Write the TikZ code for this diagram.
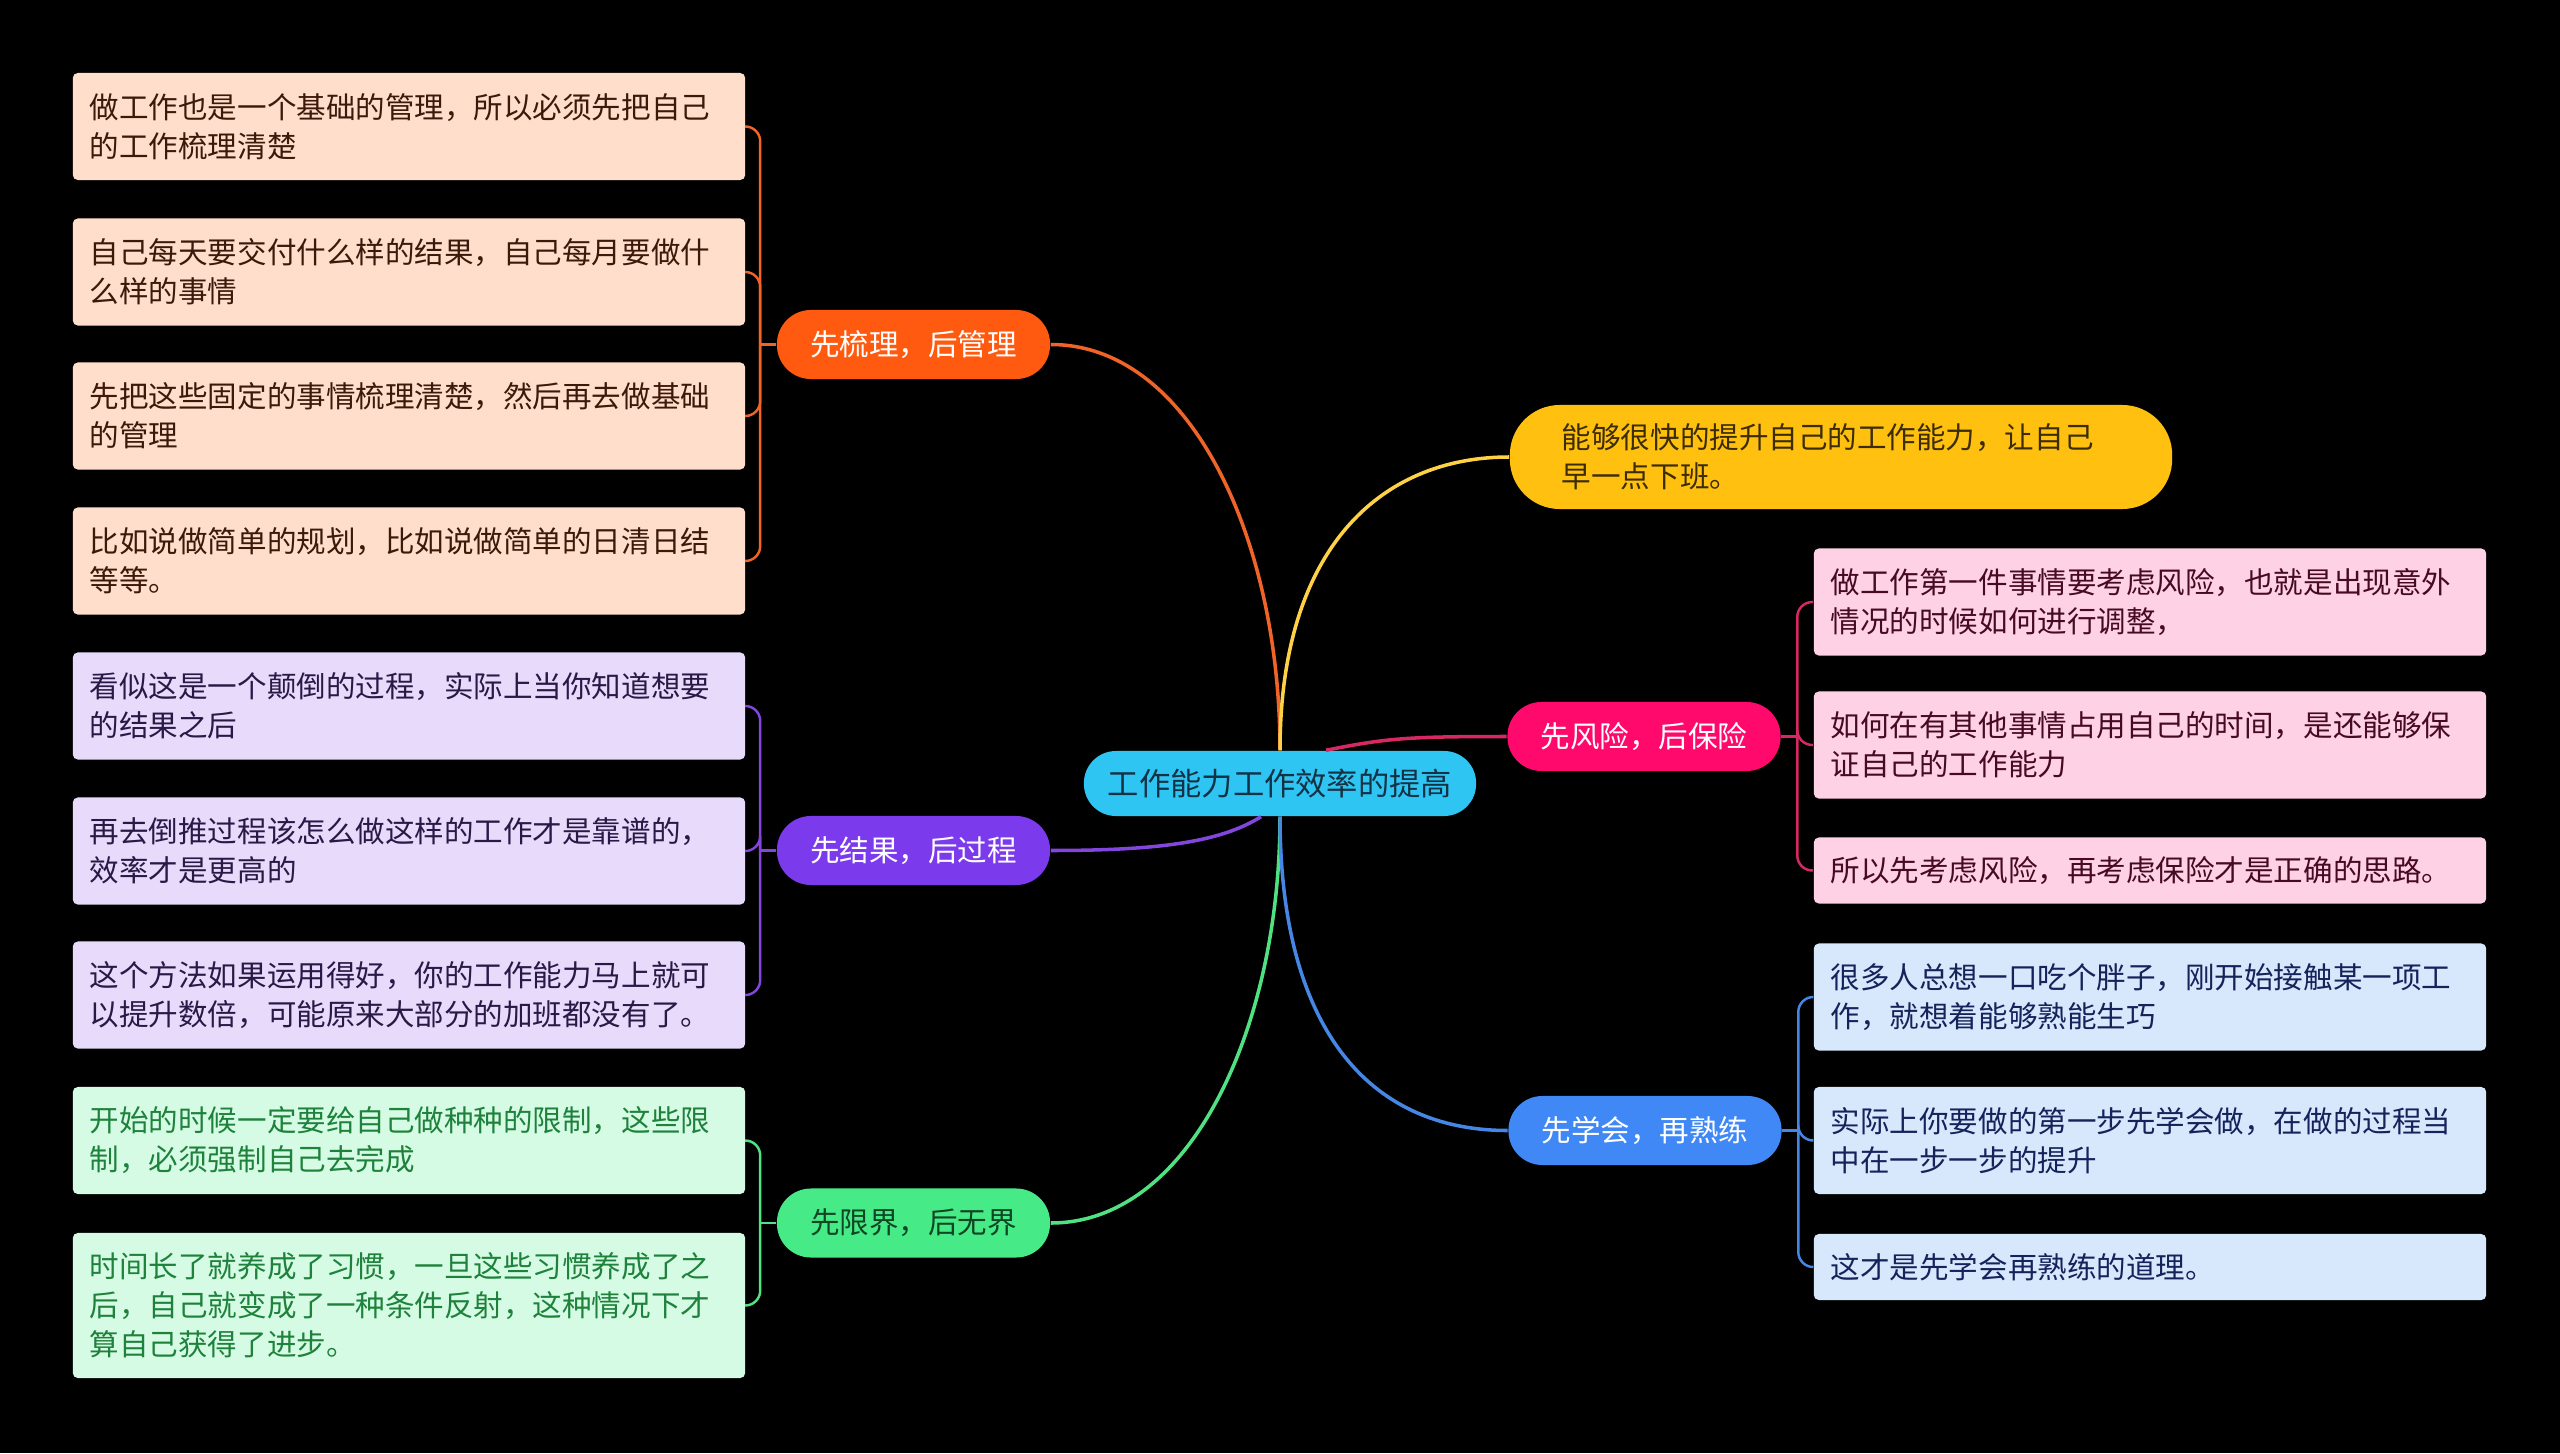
\documentclass[tikz,border=0pt]{standalone}
\usepackage{fontspec}
\setmainfont{Noto Sans CJK SC}
\usepackage{xcolor}
\usepackage{tikz}
\usetikzlibrary{positioning, calc}
\definecolor{mmcyan}{RGB}{46,197,242}
\definecolor{mmrootink}{RGB}{20,50,70}
\definecolor{mmorange}{RGB}{255,90,15}
\definecolor{mmorangeline}{RGB}{240,100,40}
\definecolor{mmorangeleaf}{RGB}{255,223,204}
\definecolor{mmorangeink}{RGB}{60,25,10}
\definecolor{mmpurple}{RGB}{124,58,237}
\definecolor{mmpurpleline}{RGB}{130,70,220}
\definecolor{mmpurpleleaf}{RGB}{232,218,251}
\definecolor{mmpurpleink}{RGB}{40,25,70}
\definecolor{mmgreen}{RGB}{70,235,135}
\definecolor{mmgreenink}{RGB}{15,70,35}
\definecolor{mmgreenline}{RGB}{80,225,130}
\definecolor{mmgreenleaf}{RGB}{214,251,228}
\definecolor{mmgreenleafink}{RGB}{30,130,60}
\definecolor{mmyellow}{RGB}{255,192,15}
\definecolor{mmyellowink}{RGB}{60,45,0}
\definecolor{mmyellowline}{RGB}{255,210,70}
\definecolor{mmpink}{RGB}{255,10,108}
\definecolor{mmpinkline}{RGB}{215,40,100}
\definecolor{mmpinkleaf}{RGB}{255,209,228}
\definecolor{mmpinkink}{RGB}{70,10,35}
\definecolor{mmblue}{RGB}{63,136,245}
\definecolor{mmblueline}{RGB}{70,135,230}
\definecolor{mmblueleaf}{RGB}{215,232,253}
\definecolor{mmblueink}{RGB}{20,35,90}

\begin{document}
\begin{tikzpicture}[
  x=0.01cm, y=0.01cm,
  every node/.style={font=\fontsize{8.4}{11.1}\selectfont},
  root/.style={rectangle, fill=mmcyan, text=mmrootink,
               font=\fontsize{8.9}{11}\selectfont, minimum width=3.92cm,
               minimum height=0.65cm, rounded corners=0.32cm},
  topic/.style={rectangle, text=white, minimum width=2.73cm,
                minimum height=0.69cm, rounded corners=0.34cm, inner sep=0pt},
  leaf/.style={rectangle, rounded corners=0.05cm, text width=6.38cm,
               inner xsep=0.17cm, inner ysep=0pt, align=left},
  lone/.style={leaf, minimum height=0.66cm},
  ltwo/.style={leaf, minimum height=1.07cm},
  lthree/.style={leaf, minimum height=1.45cm},
  branch/.style={line width=1pt},
  twig/.style={line width=0.7pt, rounded corners=0.15cm},
]

% Background
\fill[black] (0,0) rectangle (2560,1453);

% Root
\node[root] (root) at (1280,669.5) {工作能力工作效率的提高};

% Left topics
\node[topic, fill=mmorange] (sort)   at (913.5,1108.5) {先梳理，后管理};
\node[topic, fill=mmpurple] (result) at (913.5,602.5)  {先结果，后过程};
\node[topic, fill=mmgreen, text=mmgreenink] (limit) at (913.5,230) {先限界，后无界};

% Right topics
\node[topic, fill=mmyellow, text=mmyellowink, minimum width=6.62cm,
      minimum height=1.04cm, rounded corners=0.5cm, text width=5.58cm,
      align=left, inner xsep=0.52cm] (quick) at (1841,996)
      {能够很快的提升自己的工作能力，让自己\\早一点下班。};
\node[topic, fill=mmpink] (risk)  at (1644,716.5) {先风险，后保险};
\node[topic, fill=mmblue] (learn) at (1645,322.5) {先学会，再熟练};

% Leaves of sort
\node[ltwo, fill=mmorangeleaf, text=mmorangeink] (s1) at (409,1326.5)
  {做工作也是一个基础的管理，所以必须先把自己\\的工作梳理清楚};
\node[ltwo, fill=mmorangeleaf, text=mmorangeink] (s2) at (409,1181)
  {自己每天要交付什么样的结果，自己每月要做什\\么样的事情};
\node[ltwo, fill=mmorangeleaf, text=mmorangeink] (s3) at (409,1037)
  {先把这些固定的事情梳理清楚，然后再去做基础\\的管理};
\node[ltwo, fill=mmorangeleaf, text=mmorangeink] (s4) at (409,892)
  {比如说做简单的规划，比如说做简单的日清日结\\等等。};

% Leaves of result
\node[ltwo, fill=mmpurpleleaf, text=mmpurpleink] (r1) at (409,747)
  {看似这是一个颠倒的过程，实际上当你知道想要\\的结果之后};
\node[ltwo, fill=mmpurpleleaf, text=mmpurpleink] (r2) at (409,602)
  {再去倒推过程该怎么做这样的工作才是靠谱的，\\效率才是更高的};
\node[ltwo, fill=mmpurpleleaf, text=mmpurpleink] (r3) at (409,458)
  {这个方法如果运用得好，你的工作能力马上就可\\以提升数倍，可能原来大部分的加班都没有了。};

% Leaves of limit
\node[ltwo, fill=mmgreenleaf, text=mmgreenleafink] (g1) at (409,312.5)
  {开始的时候一定要给自己做种种的限制，这些限\\制，必须强制自己去完成};
\node[lthree, fill=mmgreenleaf, text=mmgreenleafink] (g2) at (409,147.5)
  {时间长了就养成了习惯，一旦这些习惯养成了之\\后，自己就变成了一种条件反射，这种情况下才\\算自己获得了进步。};

% Leaves of risk
\node[ltwo, fill=mmpinkleaf, text=mmpinkink] (k1) at (2150,851)
  {做工作第一件事情要考虑风险，也就是出现意外\\情况的时候如何进行调整，};
\node[ltwo, fill=mmpinkleaf, text=mmpinkink] (k2) at (2150,708)
  {如何在有其他事情占用自己的时间，是还能够保\\证自己的工作能力};
\node[lone, fill=mmpinkleaf, text=mmpinkink] (k3) at (2150,582.5)
  {所以先考虑风险，再考虑保险才是正确的思路。};

% Leaves of learn
\node[ltwo, fill=mmblueleaf, text=mmblueink] (l1) at (2150,456)
  {很多人总想一口吃个胖子，刚开始接触某一项工\\作，就想着能够熟能生巧};
\node[ltwo, fill=mmblueleaf, text=mmblueink] (l2) at (2150,312.5)
  {实际上你要做的第一步先学会做，在做的过程当\\中在一步一步的提升};
\node[lone, fill=mmblueleaf, text=mmblueink] (l3) at (2150,186)
  {这才是先学会再熟练的道理。};

% Branches from root
\draw[branch, mmorangeline] (root.north) .. controls +(0,210) and +(140,0) .. (sort.east);
\draw[branch, mmyellowline] (root.north) .. controls +(0,200) and +(-130,0) .. (quick.west);
\draw[branch, mmpinkline] ($(root.north)+(46,0)$) .. controls +(60,12) and +(-100,0) .. (risk.west);
\draw[branch, mmpurpleline] ($(root.south)+(-19,0)$) .. controls +(-40,-25) and +(110,0) .. (result.east);
\draw[branch, mmgreenline] (root.south) .. controls +(0,-210) and +(140,0) .. (limit.east);
\draw[branch, mmblueline] (root.south) .. controls +(0,-210) and +(-140,0) .. (learn.west);

% Twigs to leaves
\draw[twig, mmorangeline] (sort.west) -- ++(-16,0) coordinate (sortj);
\foreach \c in {s1,s2,s3,s4} \draw[twig, mmorangeline] (sortj) |- (\c.east);
\draw[twig, mmpurpleline] (result.west) -- ++(-16,0) coordinate (resultj);
\foreach \c in {r1,r2,r3} \draw[twig, mmpurpleline] (resultj) |- (\c.east);
\draw[twig, mmgreenline] (limit.west) -- ++(-16,0) coordinate (limitj);
\foreach \c in {g1,g2} \draw[twig, mmgreenline] (limitj) |- (\c.east);
\draw[twig, mmpinkline] (risk.east) -- ++(16,0) coordinate (riskj);
\foreach \c in {k1,k2,k3} \draw[twig, mmpinkline] (riskj) |- (\c.west);
\draw[twig, mmblueline] (learn.east) -- ++(16,0) coordinate (learnj);
\foreach \c in {l1,l2,l3} \draw[twig, mmblueline] (learnj) |- (\c.west);

\end{tikzpicture}
\end{document}
